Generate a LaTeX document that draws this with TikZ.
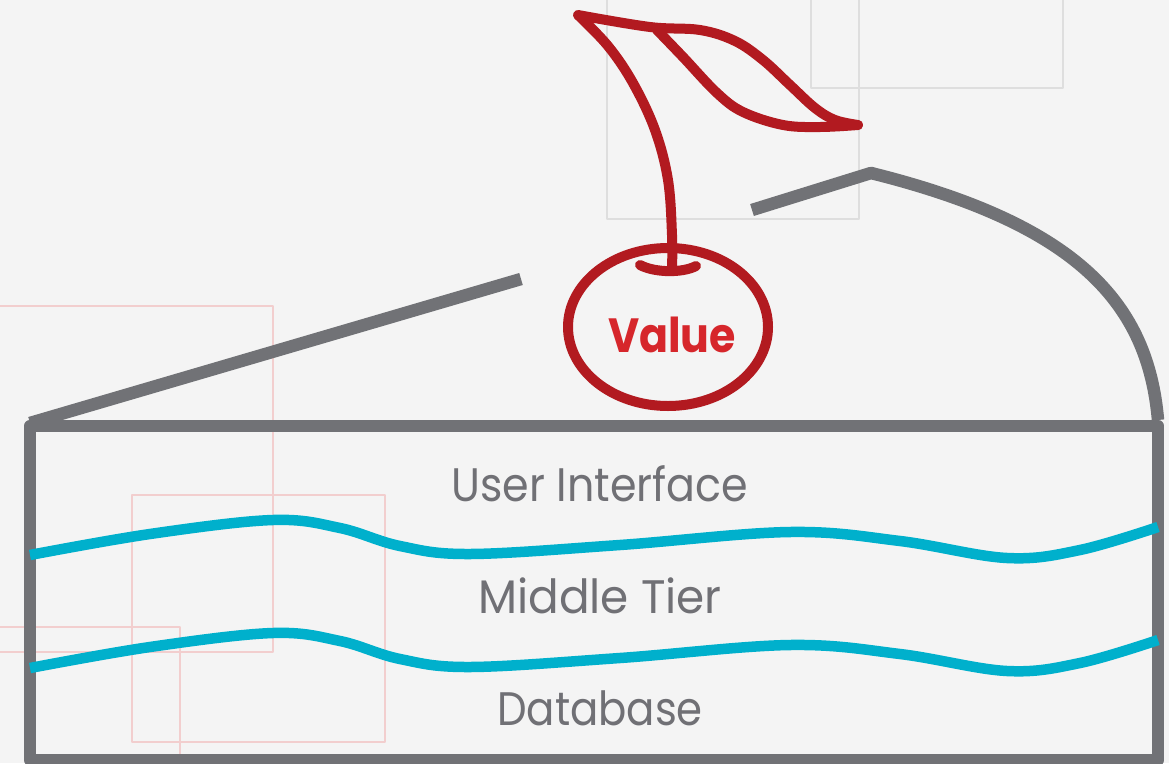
\documentclass[tikz,border=0pt]{standalone}
\usepackage{fontspec}
\setmainfont{Poppins}
\begin{document}
\begin{tikzpicture}[x=1pt,y=-1pt,
  line join=round,
  cakeline/.style={draw=cakegray,line width=12.5pt},
  layerline/.style={draw=layerteal,line width=10.5pt},
  cherryline/.style={draw=cherryred,line width=10pt,line cap=round},
  guidegray/.style={draw=guidegraycol,line width=1.8pt},
  guidepink/.style={draw=guidepinkcol,line width=1.8pt},
  layerlabel/.style={text=labelgray,font=\fontsize{47}{50}\selectfont,anchor=base,inner sep=0pt},
  valuelabel/.style={text=valuered,font=\bfseries\fontsize{48}{50}\selectfont,anchor=base,inner sep=0pt}]
\definecolor{bg}{RGB}{244,244,244}
\definecolor{cakegray}{RGB}{113,114,118}
\definecolor{layerteal}{RGB}{0,176,204}
\definecolor{cherryred}{RGB}{178,26,32}
\definecolor{valuered}{RGB}{214,38,43}
\definecolor{labelgray}{RGB}{112,112,117}
\definecolor{guidegraycol}{RGB}{222,222,222}
\definecolor{guidepinkcol}{RGB}{242,206,206}

% canvas
\fill[bg] (0,0) rectangle (1169,763);
\useasboundingbox (0,0) rectangle (1169,763);
\begin{scope}
\clip (0,0) rectangle (1169,763);

% faint layout frames
\draw[guidegray] (607,-10) rectangle (859,219);
\draw[guidegray] (811,-10) rectangle (1063,88);
\draw[guidepink] (-10,306) rectangle (273,652);
\draw[guidepink] (132,495) rectangle (385,742);
\draw[guidepink] (-10,627) rectangle (180,780);

% cake body
\draw[cakeline] (30,426) rectangle (1158,760);
\coordinate (tl) at (30,423);
\coordinate (lefttop) at (521,279);
\coordinate (rightstart) at (752,210);
\coordinate (peak) at (871,173);
\coordinate (tr) at (1158,420);
\draw[cakeline] (tl) -- (lefttop);
\draw[cakeline] (rightstart) -- (peak) .. controls (1080,225) and (1148,305) .. (tr);

% layer boundaries
\draw[layerline] plot[smooth,tension=0.6] coordinates {(30,555) (150,534) (273,520) (340,528) (400,546) (470,554) (620,545) (790,532) (900,541) (1007,558) (1080,550) (1158,527)};
\draw[layerline] plot[smooth,tension=0.6] coordinates {(30,668) (150,647) (273,633) (340,641) (400,659) (470,667) (620,658) (790,645) (900,654) (1007,671) (1080,663) (1158,640)};

% layer labels
\node[layerlabel] (ui) at (600,501) {\scalebox{0.91}[1]{User Interface}};
\node[layerlabel] (mid) at (600,613) {\scalebox{0.965}[1]{Middle Tier}};
\node[layerlabel] (db) at (600,725) {\scalebox{0.89}[1]{Database}};

% cherry
\draw[cherryline] (668,327) ellipse [x radius=100, y radius=79];
\draw[cherryline] (640,265) .. controls (655,273) and (683,273) .. (696,266);
\draw[cherryline] plot[smooth,tension=0.6] coordinates {(672,270) (672,235) (668,180) (655,130) (633,83) (608,46) (578,15)}
  -- plot[smooth,tension=0.6] coordinates {(578,15) (650,27) (700,30) (735,41) (763,60) (790,85) (815,108) (835,120) (858,125)};
\draw[cherryline] plot[smooth,tension=0.6] coordinates {(657,30) (683,57) (717,93) (743,112) (783,125) (820,127) (858,125)};
\node[valuelabel] (value) at (672,352) {\scalebox{0.89}[1]{Value}};
\end{scope}
\end{tikzpicture}
\end{document}
